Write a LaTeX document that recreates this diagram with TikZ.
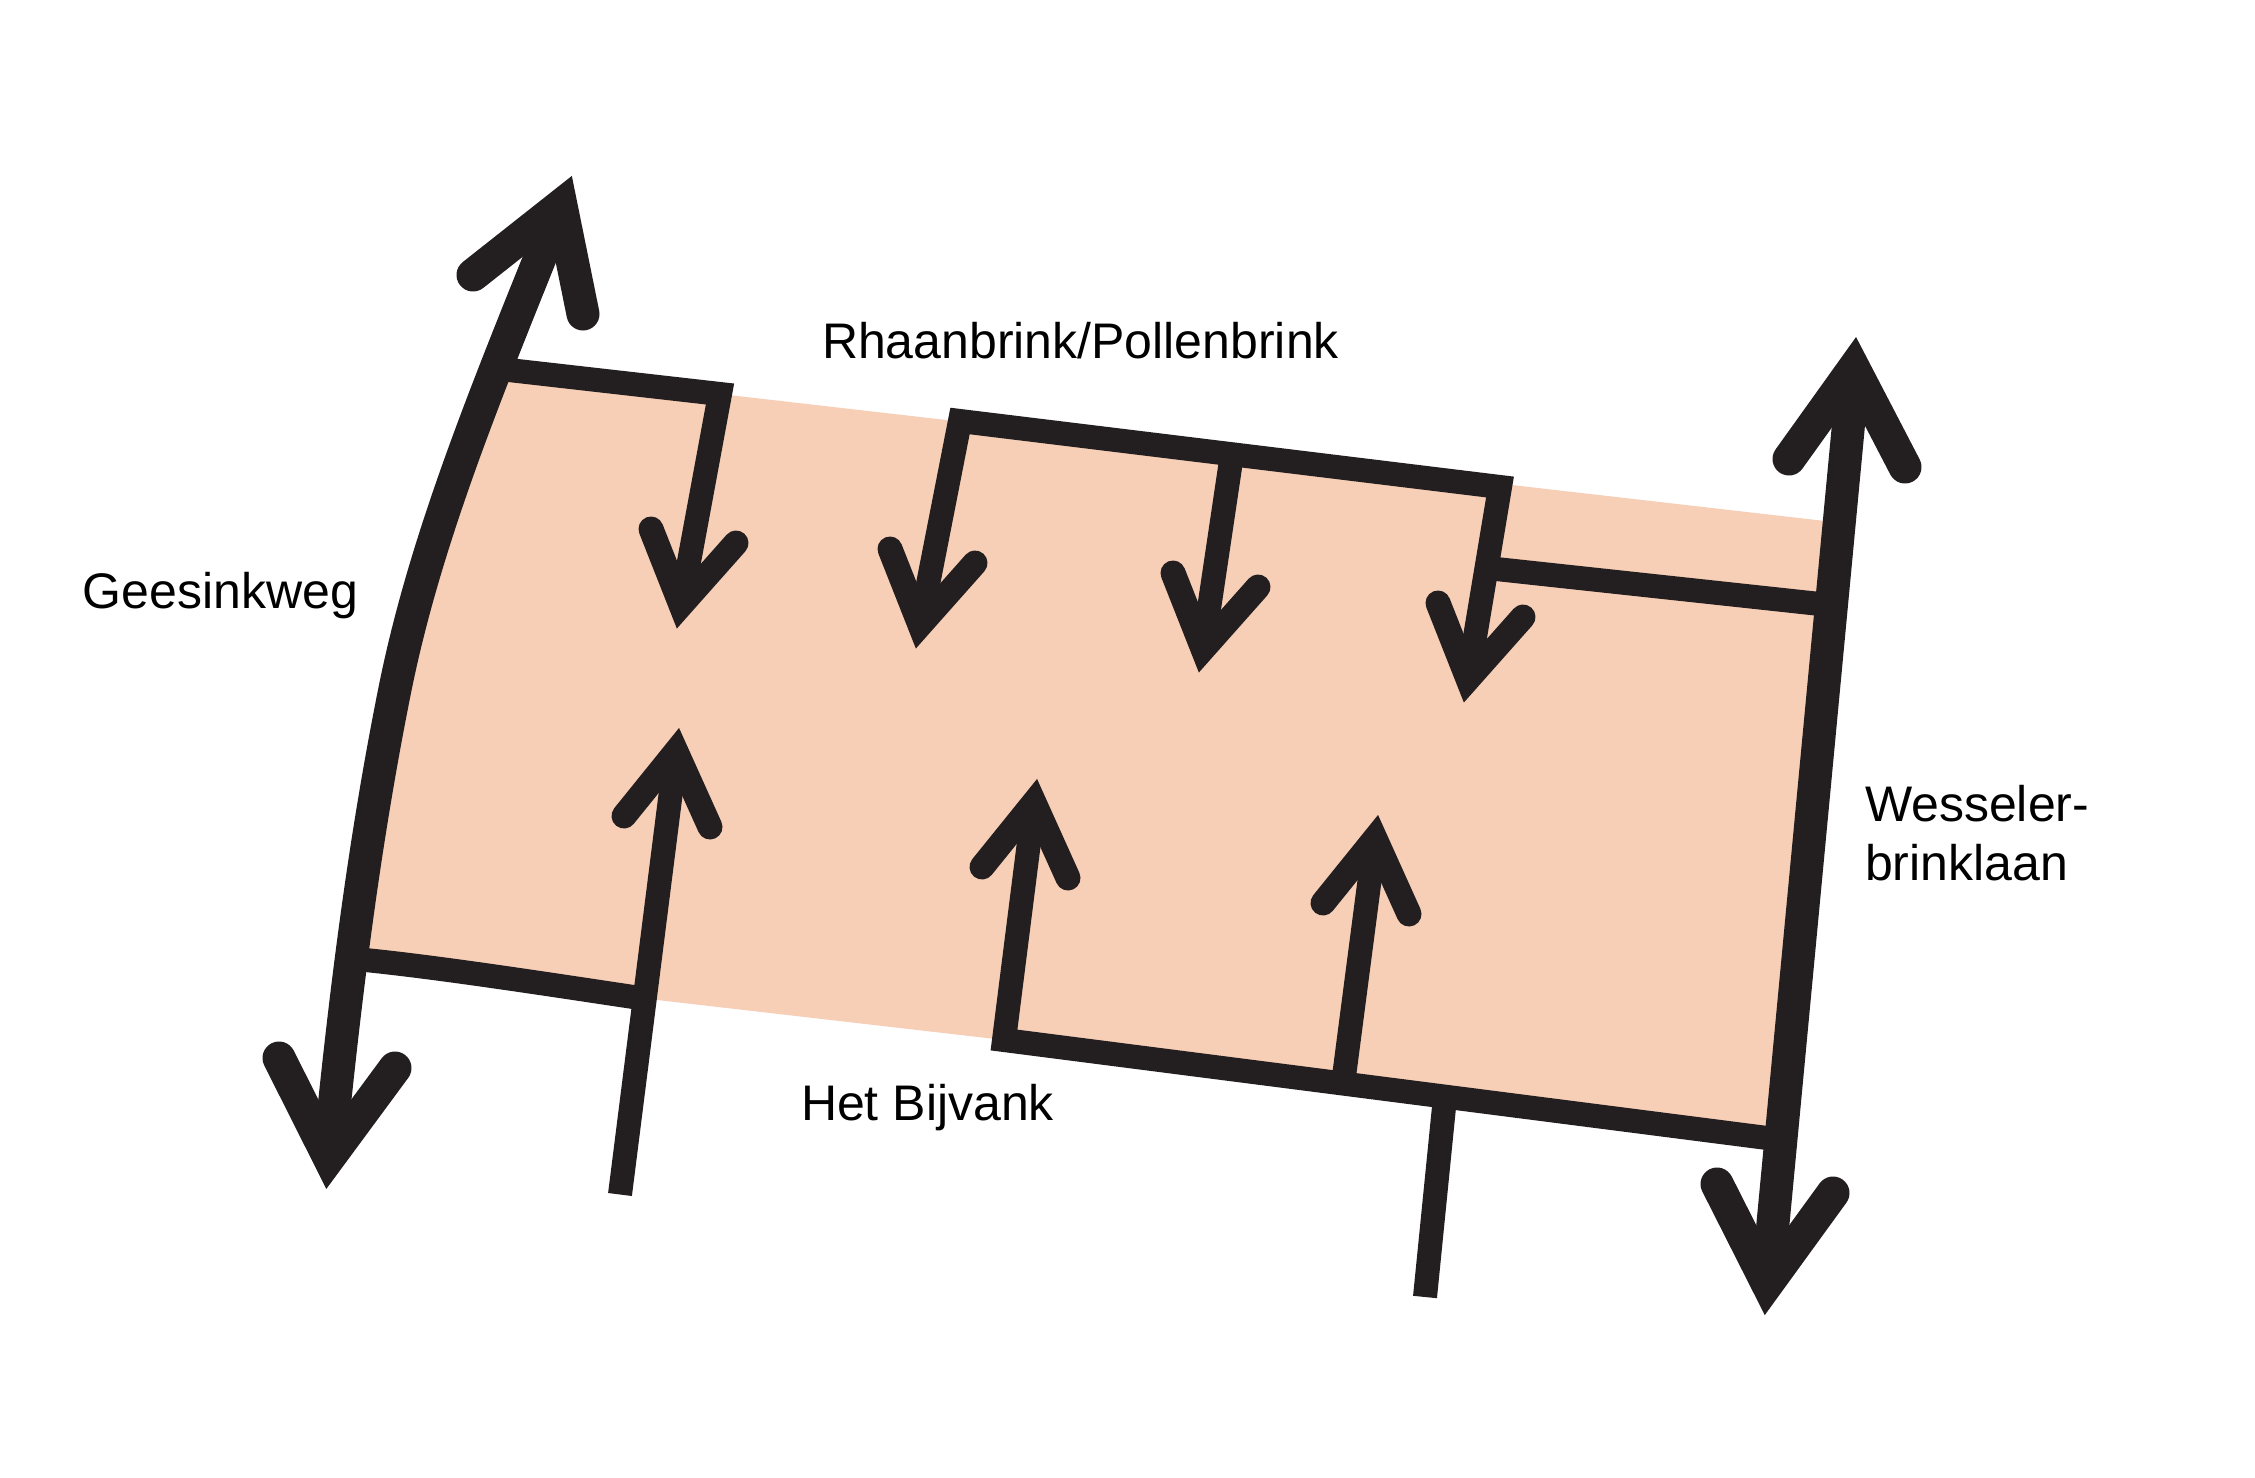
\documentclass[tikz,border=0pt]{standalone}
\usepackage{fontspec}
\setmainfont{Liberation Sans}
\definecolor{ink}{HTML}{231F20}
\definecolor{plot}{HTML}{F7CEB6}
\tikzset{
  wall/.style={draw=ink,line width=12pt,line join=miter,miter limit=20,line cap=butt},
  road/.style={draw=ink,line width=16.5pt,line cap=butt},
  smallhead/.style={draw=ink,line width=12.5pt,line cap=round,line join=miter,miter limit=20},
  bighead/.style={draw=ink,line width=16.5pt,line cap=round,line join=miter,miter limit=20},
  lbl/.style={anchor=base west,inner sep=0pt,outer sep=0pt,text=black,font=\fontsize{25}{30}\selectfont,align=left}
}
\begin{document}
\begin{tikzpicture}[x=0.5pt,y=-0.5pt]
\path[use as bounding box,fill=white] (0,0) rectangle (2255,1478);
% left road
\coordinate (lt) at (561,205.5);
\coordinate (lm) at (395,689);
\coordinate (lb) at (329,1157.5);
% right road
\coordinate (rt) at (1853.8,368.5);
\coordinate (rb) at (1767.3,1283.5);
% top walls
\coordinate (w1s) at (500,369);
\coordinate (w1c) at (720,394);
\coordinate (w2l) at (960,421);
\coordinate (w2m) at (1232,454);
\coordinate (w2r) at (1500,487);
\coordinate (br1) at (1487,568);
\coordinate (br2) at (1820,604);
% bottom walls
\coordinate (b1s) at (355,959);
\coordinate (b1e) at (640,998);
\coordinate (b2c) at (1004,1040);
\coordinate (b2t) at (1343,1084);
\coordinate (b2j) at (1445,1097);
\coordinate (b2e) at (1775,1139);
% arrow apexes
\coordinate (d1) at (681,605);
\coordinate (d2) at (920,625);
\coordinate (d3) at (1203,649);
\coordinate (d4) at (1468,679);
\coordinate (u1) at (676,751.6);
\coordinate (u2) at (1034,802.6);
\coordinate (u3) at (1375,838.6);
\coordinate (e1) at (620,1194.5);
\coordinate (e2) at (1425,1297);
% plot fill
\fill[plot] (w1s) -- (w1c) -- (1825,521) -- (1768,1138) -- (b2c) -- (b1e) -- (b1s)
  -- (lm) -- (447,494) -- cycle;
% walls and stems
\draw[wall] (w1s) -- (w1c) -- (d1);
\draw[wall] (d2) -- (w2l) -- (w2r) -- (d4);
\draw[wall] (w2m) -- (d3);
\draw[wall] (br1) -- (br2);
\draw[wall] (b1s) .. controls (430,966) and (540,983) .. (b1e);
\draw[wall] (u2) -- (b2c) -- (b2e);
\draw[wall] (u3) -- (b2t);
\draw[wall] (b2j) -- (e2);
\draw[wall] (u1) -- (e1);
% roads
\draw[road] (lt) .. controls (494.5,372) and (427,530) .. (lm)
  .. controls (364,843) and (345,996) .. (lb);
\draw[road] (rt) -- (rb);
% big heads
\draw[bighead] (473,275) -- (lt) -- (583,314);
\draw[bighead] (279,1058) -- (lb) -- (395,1068);
\draw[bighead] (1789,459) -- (rt) -- (1905,467);
\draw[bighead] (1717,1184) -- (rb) -- (1833,1193);
% small heads
\draw[smallhead] (d1) ++(-30,-76) -- (d1) -- ++(55,-62);
\draw[smallhead] (d2) ++(-30,-76) -- (d2) -- ++(55,-62);
\draw[smallhead] (d3) ++(-30,-76) -- (d3) -- ++(55,-62);
\draw[smallhead] (d4) ++(-30,-76) -- (d4) -- ++(55,-62);
\draw[smallhead] (u1) ++(-52,64.4) -- (u1) -- ++(34,75.4);
\draw[smallhead] (u2) ++(-52,64.4) -- (u2) -- ++(34,75.4);
\draw[smallhead] (u3) ++(-52,64.4) -- (u3) -- ++(34,75.4);
% labels
\node[lbl] (rhaan) at (822,358) {Rhaanbrink/Pollenbrink};
\node[lbl] (gees) at (83,608) {Geesinkweg};
\node[lbl] (bijv) at (801,1120) {Het Bijvank};
\node[lbl] (wess) at (1865,821) {Wesseler-};
\node[lbl] (brink) at (1865,880) {brinklaan};
\end{tikzpicture}
\end{document}
